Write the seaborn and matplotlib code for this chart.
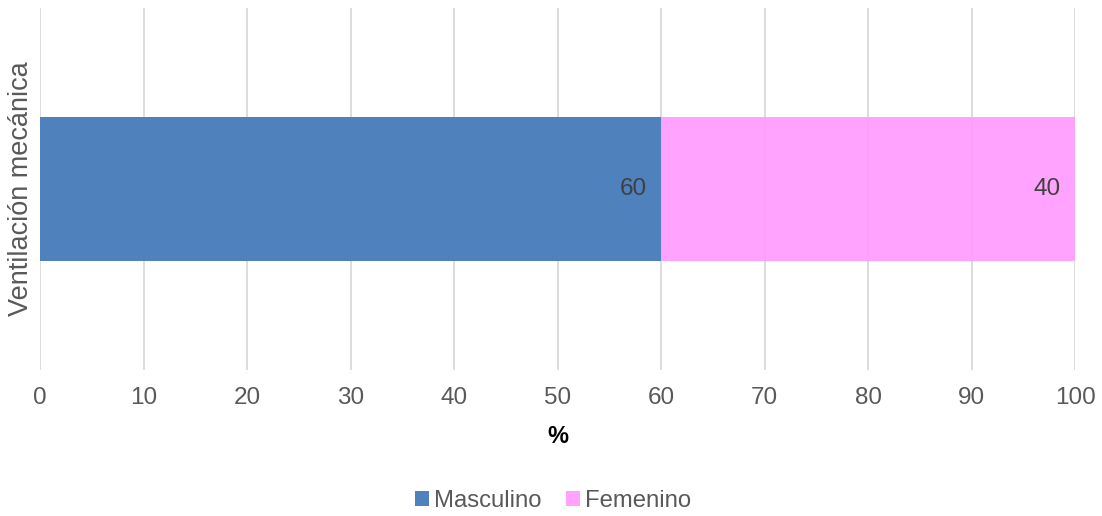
import matplotlib
matplotlib.use("Agg")
import matplotlib.pyplot as plt
import seaborn as sns
import pandas as pd
from matplotlib.patches import Patch

categories = ["Ventilación mecánica"]
masculino = [60]
femenino = [40]
series_names = ["Masculino", "Femenino"]
xticks = [0, 10, 20, 30, 40, 50, 60, 70, 80, 90, 100]

blue = "#4F81BD"
pink = "#FF99FF"
txt = "#595959"

sns.set_theme(style="white")
plt.rcParams['font.family'] = ['Liberation Sans', 'DejaVu Sans']

df = pd.DataFrame({"cat": categories, "Masculino": masculino, "Femenino": femenino})
df["total"] = df["Masculino"] + df["Femenino"]

fig = plt.figure(figsize=(11.02, 5.16), dpi=100)
ax = fig.add_axes([0.0363, 0.283, 0.9392, 0.7016])

sns.barplot(data=df, x="total", y="cat", orient="h", color=pink, alpha=0.9,
            width=0.4, ax=ax, saturation=1, zorder=2, linewidth=0)
sns.barplot(data=df, x="Masculino", y="cat", orient="h", color=blue,
            width=0.4, ax=ax, saturation=1, zorder=3, linewidth=0)

ax.set_xlim(0, 100)
ax.set_ylim(0.5, -0.5)
ax.set_xticks(xticks)
ax.set_xticklabels([str(t) for t in xticks])
ax.set_yticks([])
ax.grid(axis="x", color="#D9D9D9", linewidth=1.3, zorder=0)
ax.set_axisbelow(True)
for s in ax.spines.values():
    s.set_visible(False)
ax.tick_params(axis="x", length=0, pad=12, labelsize=17.5, labelcolor=txt)

ax.set_xlabel("%", fontsize=17, fontweight="bold", color="black", labelpad=12)
ax.set_ylabel(categories[0], fontsize=19.5, color=txt, labelpad=4)

for i, (m, f) in enumerate(zip(masculino, femenino)):
    ax.annotate(str(m), xy=(m, i), xytext=(-10, 0), textcoords="offset points",
                ha="right", va="center", fontsize=17.5, color="#404040", zorder=5)
    ax.annotate(str(f), xy=(m + f, i), xytext=(-10, 0), textcoords="offset points",
                ha="right", va="center", fontsize=17.5, color="#404040", zorder=5)

handles = [Patch(facecolor=blue, edgecolor="none"), Patch(facecolor=pink, alpha=0.9, edgecolor="none")]
fig.legend(handles, series_names, loc="center", bbox_to_anchor=(0.502, 0.03), ncol=2,
           frameon=False, fontsize=17.2, labelcolor=txt, handlelength=0.58, handleheight=0.58,
           handletextpad=0.2, columnspacing=1.05)

fig.savefig("out.png", dpi=100)
